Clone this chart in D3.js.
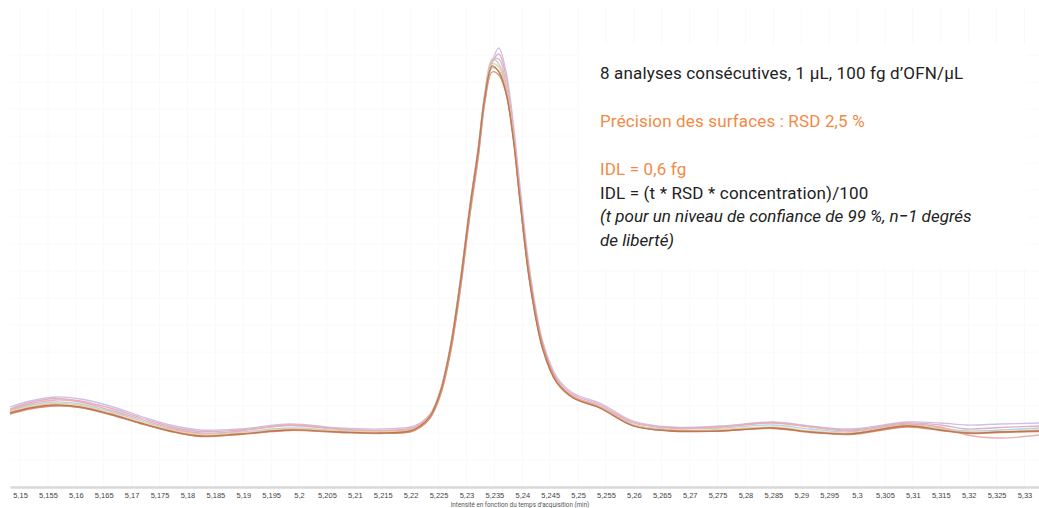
<!DOCTYPE html>
<html>
<head>
<meta charset="utf-8">
<script src="https://cdn.jsdelivr.net/npm/d3@7"></script>
<style>
  html, body { margin: 0; padding: 0; background: #fff; }
  svg { display: block; font-family: Roboto, "Noto Sans", sans-serif; }
</style>
</head>
<body>
<svg id="chart" width="1039" height="508"></svg>
<script>
// Acquisition times (min) shared by all runs
const times = [5.1482, 5.1518, 5.1563, 5.1608, 5.1661, 5.1715, 5.1769, 5.1823, 5.1894, 5.1984,
  5.2073, 5.2145, 5.2199, 5.2217, 5.2235, 5.2253, 5.2271, 5.2289, 5.2306, 5.2321,
  5.2333, 5.2346, 5.2358, 5.2371, 5.2384, 5.2396, 5.2414, 5.2437, 5.2462, 5.2491,
  5.2539, 5.2599, 5.2665, 5.2754, 5.2849, 5.2916, 5.2987, 5.3090, 5.3149, 5.3197,
  5.3256, 5.3326];

// Intensity of each of the 8 consecutive injections
const run1 = [740,790,820,800,730,640,560,510,530,570,550,540,560,610,710,950,1390,2050,2790,3370,3910,4210,4150,3940,3470,2850,2020,1370,1040,890,790,610,560,560,590,550,530,610,570,540,550,560];
const run2 = [730,780,810,795,725,635,555,505,525,565,545,535,550,595,690,910,1330,1980,2720,3300,3850,4150,4120,3930,3500,2900,2080,1410,1060,900,795,615,565,560,585,545,525,600,565,535,545,555];
const run3 = [800,860,900,880,810,710,620,570,580,630,590,580,600,640,730,940,1340,1960,2700,3280,3850,4250,4390,4150,3640,3010,2150,1450,1100,940,840,660,600,610,650,610,580,650,640,620,630,640];
const run4 = [770,830,870,850,770,680,590,540,560,620,580,560,580,625,720,960,1400,2060,2800,3380,3920,4260,4280,4020,3520,2880,2040,1390,1060,910,810,640,590,600,640,600,560,630,600,520,490,520];
const run5 = [750,800,835,815,740,650,570,520,540,580,560,550,565,615,715,955,1380,2030,2770,3360,3890,4230,4200,3980,3510,2880,2050,1390,1050,895,800,620,570,575,600,560,540,615,580,550,555,570];
const run6 = [760,815,850,830,755,665,580,530,550,590,565,555,570,620,720,965,1410,2080,2820,3400,3950,4280,4230,4000,3500,2870,2030,1380,1050,900,805,625,580,590,620,580,550,625,590,560,570,590];
const run7 = [780,845,885,860,790,695,605,555,570,615,575,565,585,630,725,950,1370,2010,2750,3330,3880,4240,4330,4100,3580,2940,2090,1420,1080,925,825,650,595,605,645,605,570,640,620,580,595,610];
const run8 = [735,785,815,795,725,640,560,510,528,568,548,538,555,600,700,930,1360,2020,2760,3340,3880,4190,4160,3960,3480,2860,2030,1380,1045,892,792,612,562,562,592,552,532,612,572,542,552,562];

// Drawing order (light traces first) and their colours
const runs = [run3, run7, run6, run4, run5, run8, run2, run1];
const runColors = ["#cfc0e4", "#dcb2c9", "#b6d2e4", "#eab0ae", "#efcda2", "#b3c2ad", "#dc9673", "#bf7653"];

// Axis ticks
const tickValues = [5.15,5.155,5.16,5.165,5.17,5.175,5.18,5.185,5.19,5.195,5.2,5.205,5.21,5.215,5.22,5.225,5.23,5.235,5.24,5.245,5.25,5.255,5.26,5.265,5.27,5.275,5.28,5.285,5.29,5.295,5.3,5.305,5.31,5.315,5.32,5.325,5.33];
const axisTitle = "Intensité en fonction du temps d’acquisition (min)";

// Annotation lines
const notes = [
  { text: "8 analyses consécutives, 1 µL, 100 fg d’OFN/µL", color: "#222", italic: false, gap: 0 },
  { text: "Précision des surfaces : RSD 2,5 %", color: "#f28a45", italic: false, gap: 2 },
  { text: "IDL = 0,6 fg", color: "#f28a45", italic: false, gap: 2 },
  { text: "IDL = (t * RSD * concentration)/100", color: "#222", italic: false, gap: 1 },
  { text: "(t pour un niveau de confiance de 99 %, n−1 degrés", color: "#222", italic: true, gap: 1 },
  { text: "de liberté)", color: "#222", italic: true, gap: 1 }
];

const svg = d3.select("#chart");
const plot = { left: 10, right: 1039, top: 8, bottom: 487 };

const x = d3.scaleLinear().domain([5.1482, 5.3326]).range([plot.left, plot.right]);
const y = d3.scaleLinear().domain([0, 4400]).range([plot.bottom, 47]);

// faint background grid
const grid = svg.append("g").attr("class", "grid");
grid.selectAll("line.v").data(tickValues).join("line")
  .attr("x1", d => x(d)).attr("x2", d => x(d))
  .attr("y1", plot.top).attr("y2", plot.bottom)
  .attr("stroke", "#f9f9f9").attr("stroke-width", 1);
grid.selectAll("line.h").data(d3.range(0, 4400, 270)).join("line")
  .attr("x1", plot.left).attr("x2", plot.right)
  .attr("y1", d => y(d)).attr("y2", d => y(d))
  .attr("stroke", "#fafafa").attr("stroke-width", 1);

// x axis
const fr = d3.formatLocale({ decimal: ",", thousands: " ", grouping: [3], currency: ["", " €"] });
const fmt = fr.format(".3~f");
const xAxis = d3.axisBottom(x).tickValues(tickValues).tickFormat(fmt).tickSize(0).tickPadding(6);
const ax = svg.append("g").attr("transform", `translate(0,${plot.bottom})`).call(xAxis);
ax.select(".domain").attr("stroke", "#d8d8d8").attr("stroke-width", 2.5);
ax.selectAll("text").attr("font-size", 7.5).attr("fill", "#444");

svg.append("text")
  .attr("x", 520).attr("y", 507)
  .attr("text-anchor", "middle")
  .attr("font-size", 6.3).attr("fill", "#555")
  .text(axisTitle);

// chromatogram traces
const line = d3.line()
  .x((d, i) => x(times[i]))
  .y(d => y(d))
  .curve(d3.curveCatmullRom.alpha(0.5));

svg.append("g").selectAll("path").data(runs).join("path")
  .attr("d", d => line(d))
  .attr("fill", "none")
  .attr("stroke", (d, i) => runColors[i])
  .attr("stroke-width", 1.3)
  .attr("stroke-linejoin", "round");

// annotation box
svg.append("rect")
  .attr("x", 580).attr("y", 45).attr("width", 447).attr("height", 223)
  .attr("fill", "#fff");

const tg = svg.append("g").attr("font-size", 17);
let yy = 79;
notes.forEach((n, i) => {
  if (i > 0) yy += n.gap === 2 ? 48 : 23.5;
  tg.append("text")
    .attr("x", 600).attr("y", yy)
    .attr("fill", n.color)
    .attr("font-style", n.italic ? "italic" : "normal")
    .attr("letter-spacing", n.italic ? 0 : 0.15)
    .text(n.text);
});
</script>
</body>
</html>
